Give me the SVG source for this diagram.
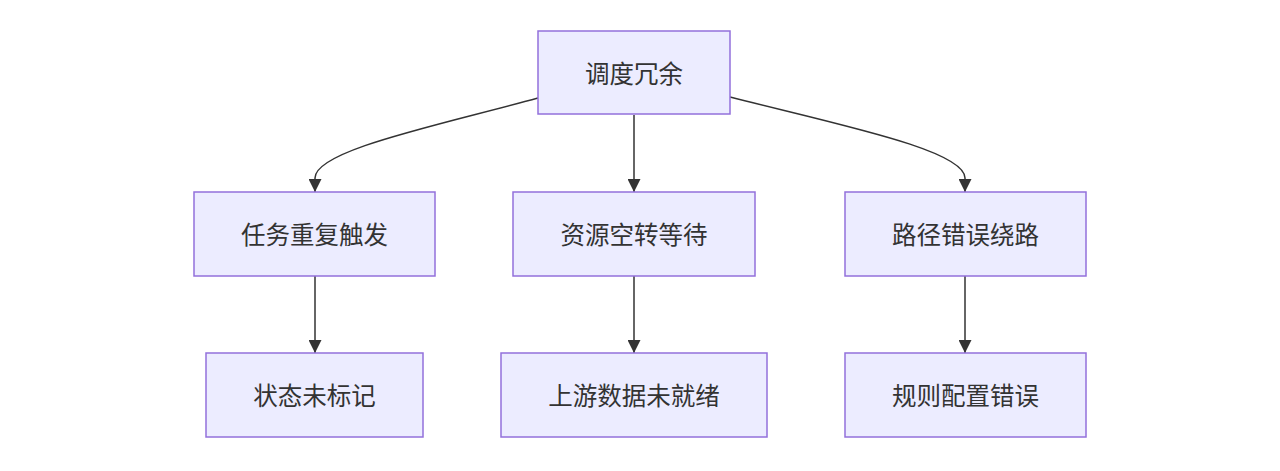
<svg xmlns="http://www.w3.org/2000/svg" width="1280" height="471" viewBox="0 0 1280 471">
<style>
.node rect{fill:#ECECFF;stroke:#9370DB;stroke-width:1.5}
.node text{font-family:"Noto Sans CJK SC","Noto Sans",sans-serif;font-size:24.5px;fill:#333333;text-anchor:middle;dominant-baseline:central}
.edge{fill:none;stroke:#333333;stroke-width:1.5}
</style>
<defs>
<marker id="arrow" markerUnits="userSpaceOnUse" markerWidth="13" markerHeight="13" viewBox="0 0 12 12" refX="12" refY="6" orient="auto">
<path d="M0,0 L12,6 L0,12 z" fill="#333333"/>
</marker>
</defs>
<rect width="1280" height="471" fill="#ffffff"/>
<g id="edges">
<path class="edge" d="M538,98 C440,125 315,150 315,178 L315,192" marker-end="url(#arrow)"/>
<path class="edge" d="M634,115 L634,192" marker-end="url(#arrow)"/>
<path class="edge" d="M730,97 C840,125 965,150 965,178 L965,192" marker-end="url(#arrow)"/>
<path class="edge" d="M315,276 L315,353" marker-end="url(#arrow)"/>
<path class="edge" d="M634,276 L634,353" marker-end="url(#arrow)"/>
<path class="edge" d="M965,276 L965,353" marker-end="url(#arrow)"/>
</g>
<g id="n0" class="node"><rect x="538" y="31" width="192" height="83"/><text x="634" y="72">调度冗余</text></g>
<g id="n1" class="node"><rect x="194" y="192" width="241" height="84"/><text x="314.5" y="233">任务重复触发</text></g>
<g id="n2" class="node"><rect x="513" y="192" width="242" height="84"/><text x="634" y="233">资源空转等待</text></g>
<g id="n3" class="node"><rect x="845" y="192" width="241" height="84"/><text x="965.5" y="233">路径错误绕路</text></g>
<g id="n4" class="node"><rect x="206" y="353" width="217" height="84"/><text x="314.5" y="394">状态未标记</text></g>
<g id="n5" class="node"><rect x="501" y="353" width="266" height="84"/><text x="634" y="394">上游数据未就绪</text></g>
<g id="n6" class="node"><rect x="845" y="353" width="241" height="84"/><text x="965.5" y="394">规则配置错误</text></g>
</svg>
